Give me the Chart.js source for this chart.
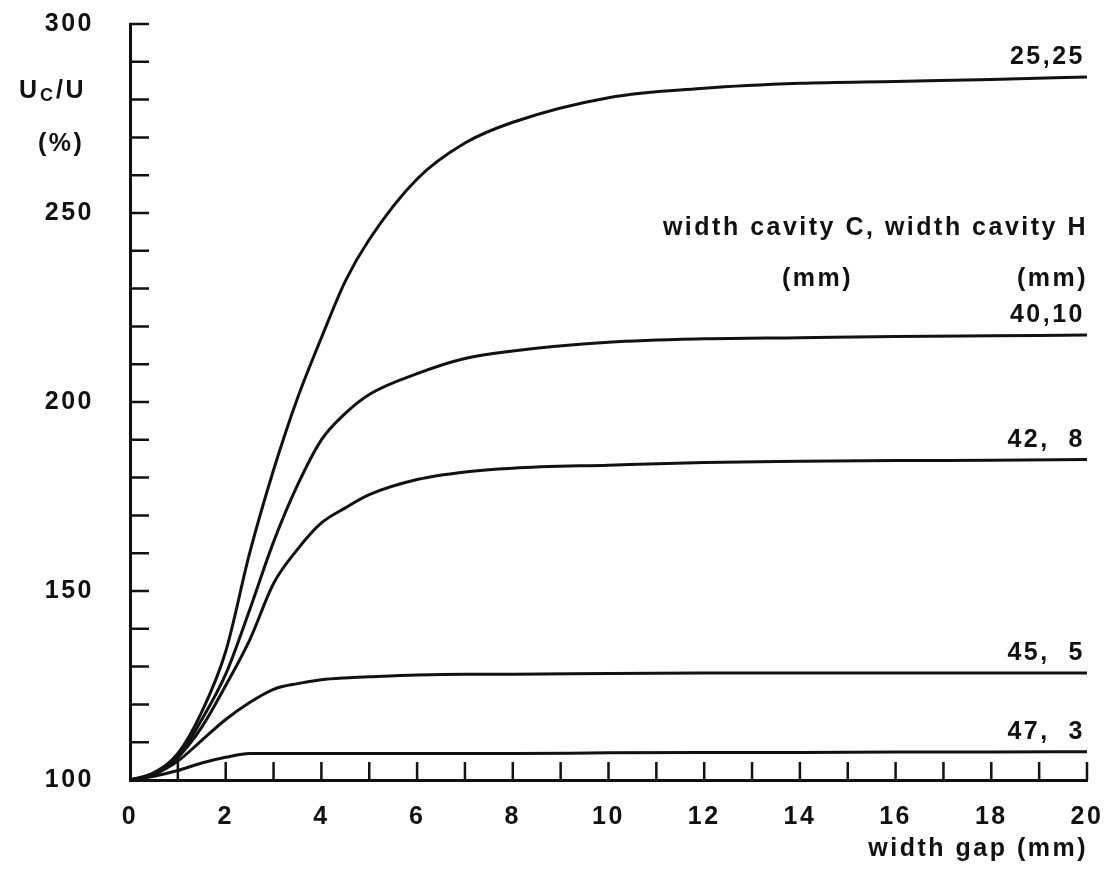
<!DOCTYPE html>
<html>
<head>
<meta charset="utf-8">
<script src="https://cdn.jsdelivr.net/npm/chart.js@4"></script>
<style>
  html, body { margin: 0; padding: 0; background: #fff; }
  #wrap { width: 1119px; height: 877px; }
</style>
</head>
<body>
<div id="wrap"><canvas id="grafico"></canvas></div>
<script>
// width gap (mm)
var gapMm = [0, 0.5, 1, 1.5, 2, 2.5, 3, 3.5, 4, 4.5, 5, 6, 7, 8, 10, 12, 14, 16, 18, 20];

// Uc/U (%) per cavity combination C, H (mm)
var uc25_25 = [100, 102, 107, 118, 134, 160, 182, 201, 217, 232, 243, 259, 268.5, 274, 280.5, 283, 284.3, 284.8, 285.3, 286];
var uc40_10 = [100, 101.5, 106, 116, 128, 145, 163, 178, 190, 197, 202, 207.5, 211.5, 213.5, 215.8, 216.7, 217, 217.3, 217.5, 217.7];
var uc42_8  = [100, 101.5, 106, 114, 125, 137, 152, 161, 168, 172, 175.5, 179.5, 181.5, 182.5, 183.3, 184, 184.3, 184.5, 184.6, 184.8];
var uc45_5  = [100, 101.5, 105, 110.5, 116, 120.5, 124, 125.5, 126.5, 127, 127.3, 127.8, 128, 128, 128.2, 128.3, 128.3, 128.3, 128.3, 128.3];
var uc47_3  = [100, 101, 102.5, 104.5, 106, 107, 107, 107, 107, 107, 107, 107, 107, 107, 107.2, 107.3, 107.3, 107.4, 107.4, 107.5];

var seriesLabels = ['25,25', '40,10', '42,  8', '45,  5', '47,  3'];
var seriesValues = [uc25_25, uc40_10, uc42_8, uc45_5, uc47_3];

var xTickLabels = [0, 2, 4, 6, 8, 10, 12, 14, 16, 18, 20];
var yTickLabels = [100, 150, 200, 250, 300];

var INK = '#111';
var FAMILY = '"Liberation Sans", Arial, sans-serif';
var FONT = 'bold 25px ' + FAMILY;

function pts(vals) {
  return vals.map(function (v, i) { return { x: gapMm[i], y: v }; });
}

var datasets = seriesValues.map(function (vals, i) {
  return {
    label: seriesLabels[i],
    data: pts(vals),
    borderColor: INK,
    borderWidth: 3,
    pointRadius: 0,
    fill: false,
    cubicInterpolationMode: 'monotone'
  };
});

// letter spacing for all text drawn on the canvas
var espacamento = {
  id: 'espacamento',
  beforeDraw: function (chart) { chart.ctx.letterSpacing = '2.5px'; },
  afterDraw: function (chart) { chart.ctx.letterSpacing = '0px'; }
};

// inward tick marks on both axes + curve labels and texts
var anotacoes = {
  id: 'anotacoes',
  afterDatasetsDraw: function (chart) {
    var ctx = chart.ctx;
    var xs = chart.scales.x, ys = chart.scales.y;
    var area = chart.chartArea;
    ctx.save();
    ctx.strokeStyle = INK;
    ctx.lineWidth = 2.5;
    ctx.beginPath();
    for (var v = 110; v <= 300; v += 10) {
      var py = ys.getPixelForValue(v);
      ctx.moveTo(area.left, py);
      ctx.lineTo(area.left + 19, py);
    }
    for (var g = 1; g <= 20; g++) {
      var px = xs.getPixelForValue(g);
      ctx.moveTo(px, area.bottom);
      ctx.lineTo(px, area.bottom - 18);
    }
    ctx.stroke();

    ctx.fillStyle = INK;
    ctx.font = FONT;
    ctx.letterSpacing = '2.5px';
    ctx.textAlign = 'right';
    ctx.textBaseline = 'bottom';
    var xEnd = xs.getPixelForValue(20);
    seriesValues.forEach(function (vals, i) {
      var yEnd = ys.getPixelForValue(vals[vals.length - 1]);
      ctx.fillText(seriesLabels[i], xEnd - 2, yEnd - 7);
    });

    ctx.textBaseline = 'middle';
    ctx.fillText('width cavity C, width cavity H', 1088, 228);
    ctx.fillText('(mm)', 1088, 279);
    ctx.fillText('(mm)', 853, 279);
    ctx.fillText('width gap (mm)', 1088, 849);

    // Uc/U (%)
    ctx.textAlign = 'left';
    ctx.textBaseline = 'alphabetic';
    ctx.fillText('U', 19, 98);
    ctx.font = 'bold 18px ' + FAMILY;
    ctx.fillText('C', 40, 101);
    ctx.font = FONT;
    ctx.fillText('/U', 56, 98);
    ctx.fillText('(%)', 38, 151);
    ctx.restore();
  }
};

var ctx = document.getElementById('grafico').getContext('2d');
var grafico = new Chart(ctx, {
  type: 'line',
  data: { datasets: datasets },
  options: {
    responsive: true,
    maintainAspectRatio: false,
    animation: false,
    layout: { padding: { top: 24, right: 32, left: 0, bottom: 0 } },
    plugins: { legend: { display: false }, tooltip: { enabled: false } },
    scales: {
      x: {
        type: 'linear',
        min: 0, max: 20,
        afterFit: function (s) { s.height = 97; s.paddingLeft = 0; s.paddingRight = 0; },
        afterBuildTicks: function (s) { s.ticks = xTickLabels.map(function (v) { return { value: v }; }); },
        grid: { display: false, drawTicks: false },
        border: { display: true, color: INK, width: 3 },
        ticks: { color: INK, font: { family: FAMILY, size: 25, weight: 'bold' }, padding: 22, maxRotation: 0 }
      },
      y: {
        type: 'linear',
        min: 100, max: 300,
        afterFit: function (s) { s.width = 130; s.paddingTop = 0; s.paddingBottom = 0; },
        afterBuildTicks: function (s) { s.ticks = yTickLabels.map(function (v) { return { value: v }; }); },
        grid: { display: false, drawTicks: false },
        border: { display: true, color: INK, width: 3 },
        ticks: { color: INK, font: { family: FAMILY, size: 25, weight: 'bold' }, padding: 36 }
      }
    }
  },
  plugins: [espacamento, anotacoes]
});
</script>
</body>
</html>
